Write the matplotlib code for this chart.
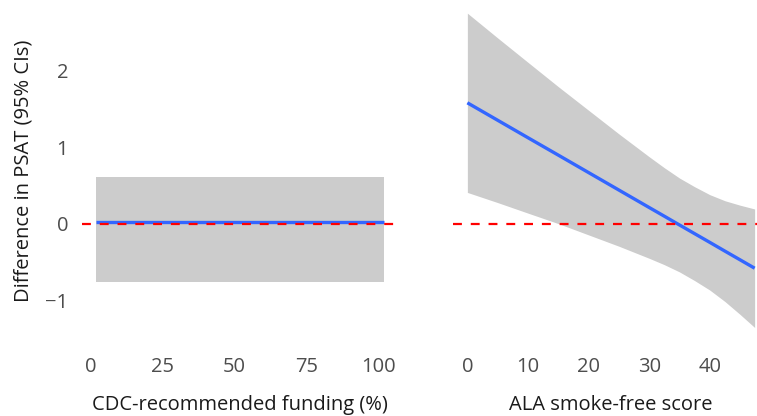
import matplotlib
matplotlib.use("Agg")
import matplotlib.pyplot as plt
import numpy as np

plt.rcParams['font.family'] = ['Open Sans', 'DejaVu Sans']

# Left panel: CDC-recommended funding (%)
cdc_x = [2, 101.7]
cdc_fit = [0.02, 0.02]
cdc_lo = [-0.755, -0.755]
cdc_hi = [0.61, 0.61]
cdc_ticks = [0, 25, 50, 75, 100]

# Right panel: ALA smoke-free score
ala_x = [0, 5, 10, 15, 20, 25, 30, 32.5, 35, 37.5, 40, 42.5, 45, 47.4]
ala_fit = [1.575, 1.348, 1.121, 0.895, 0.668, 0.441, 0.214, 0.101, -0.013, -0.126,
           -0.239, -0.353, -0.466, -0.575]
ala_hi = [2.74, 2.418, 2.101, 1.785, 1.478, 1.171, 0.874, 0.731, 0.597, 0.484,
          0.381, 0.302, 0.244, 0.195]
ala_lo = [0.41, 0.278, 0.141, 0.005, -0.142, -0.289, -0.446, -0.529, -0.623, -0.736,
          -0.859, -1.008, -1.176, -1.345]
ala_ticks = [0, 10, 20, 30, 40]

y_ticks = [-1, 0, 1, 2]
y_label = "Difference in PSAT (95% CIs)"
x_labels = ["CDC-recommended funding (%)", "ALA smoke-free score"]

W, H = 757, 416
fig = plt.figure(figsize=(W / 100, H / 100), dpi=100)

ylim = (-1.56, 2.95)
y_bot_px = 344
y_top_px = -3
ax1 = fig.add_axes([82 / W, (H - y_bot_px) / H, 316 / W, (y_bot_px - y_top_px) / H])
ax2 = fig.add_axes([453 / W, (H - y_bot_px) / H, 316 / W, (y_bot_px - y_top_px) / H])

band = '#cccccc'
blue = '#3366ff'
red = '#ff0000'
tick_col = '#4d4d4d'

for ax, x, fit, lo, hi, ticks, xl in [
    (ax1, cdc_x, cdc_fit, cdc_lo, cdc_hi, cdc_ticks, x_labels[0]),
    (ax2, ala_x, ala_fit, ala_lo, ala_hi, ala_ticks, x_labels[1]),
]:
    ax.fill_between(x, lo, hi, color=band, lw=0, zorder=1)
    ax.plot(x, fit, color=blue, lw=2.4, zorder=2, solid_capstyle='butt')
    ax.axhline(0, color=red, lw=1.6, ls=(0, (4, 4)), zorder=3)
    rng = x[-1] - x[0]
    ax.set_xlim(x[0] - 0.05 * rng, x[-1] + 0.05 * rng)
    ax.set_ylim(*ylim)
    ax.set_xticks(ticks)
    ax.set_xticklabels([str(t) for t in ticks])
    for s in ax.spines.values():
        s.set_visible(False)
    ax.tick_params(length=0, labelsize=14.5, colors=tick_col, pad=9)
    ax.set_xlabel(xl, fontsize=14.5, color='#1a1a1a', labelpad=13)
    ax.set_facecolor('white')

ax1.set_yticks(y_ticks)
ax1.set_yticklabels(['\u22121', '0', '1', '2'])
ax1.tick_params(axis='y', pad=10)
ax1.set_ylabel(y_label, fontsize=14.5, color='#1a1a1a', labelpad=8)
ax2.set_yticks([])

fig.savefig("out.png", dpi=100, facecolor='white')
